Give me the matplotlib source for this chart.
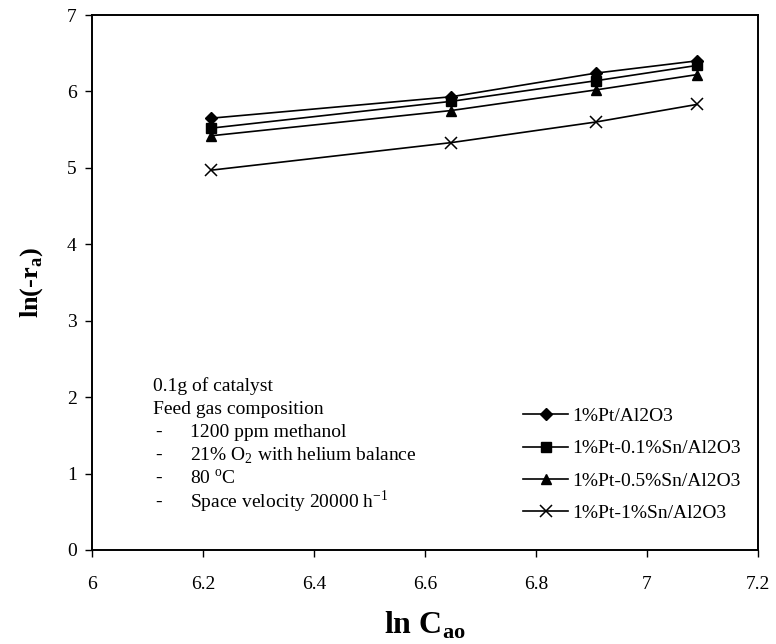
import matplotlib.pyplot as plt

# ln of inlet concentration
ln_cao = [6.215, 6.647, 6.908, 7.090]

# ln(-ra) for each catalyst
pt = [5.65, 5.93, 6.24, 6.40]
pt_01sn = [5.52, 5.87, 6.14, 6.34]
pt_05sn = [5.42, 5.75, 6.02, 6.22]
pt_1sn = [4.97, 5.33, 5.60, 5.83]

labels = ["1%Pt/Al2O3", "1%Pt-0.1%Sn/Al2O3", "1%Pt-0.5%Sn/Al2O3", "1%Pt-1%Sn/Al2O3"]
xticks = [6, 6.2, 6.4, 6.6, 6.8, 7, 7.2]
yticks = [0, 1, 2, 3, 4, 5, 6, 7]

note_head = ["0.1g of catalyst", "Feed gas composition"]
note_items = ["1200 ppm methanol",
              "21% O$_2$ with helium balance",
              "80 $^{\\mathrm{o}}$C",
              "Space velocity 20000 h$^{\\mathrm{-1}}$"]


def main():
    plt.rcParams['font.family'] = ['Liberation Serif', 'DejaVu Serif']
    plt.rcParams['mathtext.fontset'] = 'custom'
    plt.rcParams['mathtext.rm'] = 'Liberation Serif'
    plt.rcParams['mathtext.bf'] = 'Liberation Serif:bold'

    fig = plt.figure(figsize=(7.76, 6.44), dpi=100)
    ax = fig.add_axes([92 / 776, 1 - 550 / 644, 666 / 776, 535 / 644])

    ax.plot(ln_cao, pt, color='black', lw=1.2, marker='D', ms=6.5, label=labels[0])
    ax.plot(ln_cao, pt_01sn, color='black', lw=1.2, marker='s', ms=6.5, label=labels[1])
    ax.plot(ln_cao, pt_05sn, color='black', lw=1.2, marker='^', ms=7.5, label=labels[2])
    ax.plot(ln_cao, pt_1sn, color='black', lw=1.2, marker='x', ms=8, mew=1.1, label=labels[3])

    ax.set_xlim(6, 7.2)
    ax.set_ylim(0, 7)
    ax.set_xticks(xticks)
    ax.set_xticklabels(['6', '6.2', '6.4', '6.6', '6.8', '7', '7.2'])
    ax.set_yticks(yticks)
    ax.tick_params(direction='out', length=5, width=1, labelsize=14)
    ax.tick_params(axis='x', pad=14)
    ax.tick_params(axis='y', pad=6)
    for s in ax.spines.values():
        s.set_linewidth(1.4)

    ax.set_xlabel(r'ln C$_{\mathbf{ao}}$', fontsize=23, fontweight='bold', labelpad=12)
    ax.set_ylabel(r'ln(-r$_{\mathbf{a}}$)', fontsize=19, fontweight='bold', labelpad=16)

    # note block, one line at a time
    step = 23.2 / 535
    y0 = (550 - 386) / 535
    lines = [(None, t) for t in note_head] + [('-', t) for t in note_items]
    for i, (dash, txt) in enumerate(lines):
        y = y0 - i * step
        if dash:
            ax.text(0.095, y, dash, transform=ax.transAxes, fontsize=14, va='center', ha='left')
            ax.text(0.147, y, txt, transform=ax.transAxes, fontsize=14, va='center', ha='left')
        else:
            ax.text(0.092, y, txt, transform=ax.transAxes, fontsize=14, va='center', ha='left')

    ax.legend(loc='lower right', bbox_to_anchor=(1.0, 0.02), frameon=False,
              fontsize=14, handlelength=2.3, handletextpad=0.2, labelspacing=0.75)

    plt.savefig("out.png", dpi=100)


if __name__ == "__main__":
    main()
